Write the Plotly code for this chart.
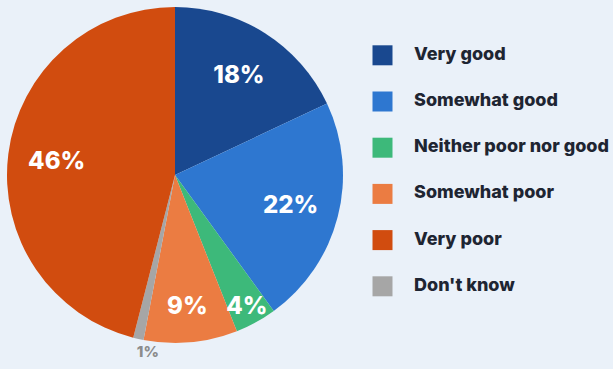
import plotly.graph_objects as go

# Data (legend order)
categories = ["Very good", "Somewhat good", "Neither poor nor good",
              "Somewhat poor", "Very poor", "Don't know"]
values = [18, 22, 4, 9, 46, 1]
colors = ["#19488F", "#2E77D0", "#3DB97A", "#EB7C42", "#D14C0F", "#A6A6A6"]

# Order of slices around the pie (clockwise from 12 o'clock)
pie_order = ["Very good", "Somewhat good", "Neither poor nor good",
             "Somewhat poor", "Don't know", "Very poor"]

idx = [categories.index(c) for c in pie_order]
pie_labels = [categories[i] for i in idx]
pie_values = [values[i] for i in idx]
pie_colors = [colors[i] for i in idx]
small = [v < 2 for v in pie_values]

# mid-angle (degrees clockwise from 12 o'clock) of each slice
total = sum(pie_values)
mid_angles, cum = [], 0
for v in pie_values:
    mid_angles.append((cum + v / 2) / total * 360)
    cum += v

BG = "#EAF1F9"
TXT = "#1E2532"
FONT = "Inter"
W, H = 613, 369
CX, CY, R = 175, 175, 168          # pie centre / radius in px (from top-left)
DOMAIN = dict(x=[(CX - R) / W, (CX + R) / W],
              y=[(H - CY - R) / H, (H - CY + R) / H])
RP = 175                            # polar half-size (fits in paper)
POLAR_DOMAIN = dict(x=[(CX - RP) / W, (CX + RP) / W],
                    y=[(H - CY - RP) / H, (H - CY + RP) / H])

fig = go.Figure()

# Coloured slices
fig.add_trace(go.Pie(
    labels=pie_labels, values=pie_values, sort=False,
    direction="clockwise", rotation=0,
    marker=dict(colors=pie_colors, line=dict(width=0)),
    textinfo="none", domain=DOMAIN, showlegend=False,
    hoverinfo="label+percent",
))

# Transparent ring carrying the inside percentage labels
fig.add_trace(go.Pie(
    labels=pie_labels, values=pie_values, sort=False,
    direction="clockwise", rotation=0, hole=0.42,
    marker=dict(colors=["rgba(0,0,0,0)"] * len(pie_values), line=dict(width=0)),
    text=["" if s else f"{v}%" for v, s in zip(pie_values, small)],
    textinfo="text", textposition="inside",
    insidetextorientation="horizontal",
    textfont=dict(family=FONT, size=24, color="#FFFFFF", weight=800),
    domain=DOMAIN, showlegend=False, hoverinfo="skip",
))

# Outside label(s) for tiny slices, on a polar axis concentric with the pie
small_theta = [a for a, s in zip(mid_angles, small) if s]
small_text = [f"{v}%" for v, s in zip(pie_values, small) if s]
fig.add_trace(go.Scatterpolar(
    theta=small_theta, r=[RP / R] * len(small_theta), mode="text",
    text=small_text, textposition="bottom right", cliponaxis=False,
    textfont=dict(family=FONT, size=15, color="#8C8C8C", weight=800),
    showlegend=False, hoverinfo="skip",
))

# Custom legend drawn from the category list
rows = list(range(len(categories)))
fig.add_trace(go.Scatter(
    x=[0] * len(categories), y=rows, mode="markers",
    marker=dict(symbol="square", size=20, color=colors, line=dict(width=0)),
    showlegend=False, hoverinfo="skip",
))
fig.add_trace(go.Scatter(
    x=[1] * len(categories), y=rows, mode="text",
    text=categories, textposition="middle right",
    textfont=dict(family=FONT, size=18, color=TXT, weight=800),
    showlegend=False, hoverinfo="skip",
))

px_per_x = 31.5
x0 = -382.5 / px_per_x
row_px0, row_step = 55.3, 46.2
fig.update_layout(
    width=W, height=H,
    margin=dict(l=0, r=0, t=0, b=0),
    paper_bgcolor=BG, plot_bgcolor="rgba(0,0,0,0)",
    xaxis=dict(domain=[0, 1], range=[x0, x0 + W / px_per_x],
               visible=False, fixedrange=True),
    yaxis=dict(domain=[0, 1],
               range=[(H - row_px0) / row_step, -row_px0 / row_step],
               visible=False, fixedrange=True),
    polar=dict(
        domain=POLAR_DOMAIN, bgcolor="rgba(0,0,0,0)",
        radialaxis=dict(range=[0, RP / R], visible=False),
        angularaxis=dict(rotation=90, direction="clockwise", visible=False),
    ),
    font=dict(family=FONT, color=TXT),
    uniformtext=dict(minsize=24, mode="show"),
)

fig.write_html("out.html")
